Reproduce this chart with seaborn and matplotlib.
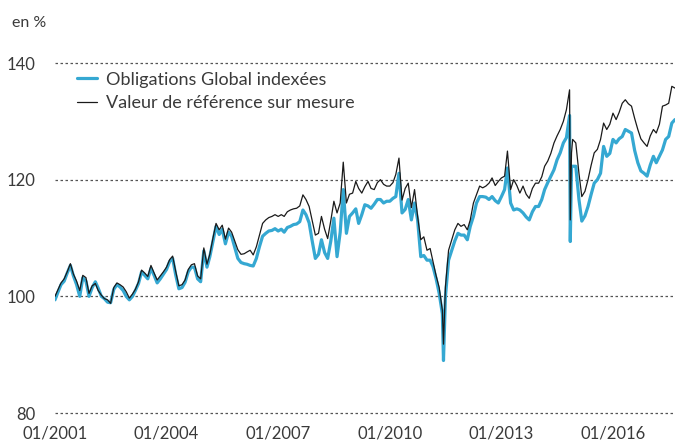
import pandas as pd
import seaborn as sns
import matplotlib.pyplot as plt

# --- Data (monthly, first of month) ---
months = pd.date_range("2001-01-01", "2017-09-01", freq="MS")

benchmark = [
    100.0, 101.2, 102.3, 103.0, 104.2, 105.6, 103.8, 102.6, 101.0, 103.6, 103.2, 100.5,
    101.8, 102.2, 101.0, 100.2, 99.6, 99.4, 98.8, 101.5, 102.3, 102.0, 101.6, 100.8,
    99.7, 100.4, 101.2, 102.5, 104.5, 104.0, 103.4, 105.3, 104.0, 102.8, 103.5, 104.2,
    105.0, 106.3, 106.9, 104.2, 101.8, 102.0, 102.8, 104.6, 105.4, 105.6, 103.5, 103.0,
    108.3, 105.5, 107.2, 110.0, 112.5, 111.4, 112.2, 109.8, 111.7, 111.0, 109.5, 108.0,
    107.2, 107.3, 107.6, 107.9, 107.1, 108.5, 110.5, 112.5, 113.1, 113.5, 113.7, 114.0,
    113.7, 114.0, 113.7, 114.5, 114.8, 115.0, 115.1, 115.5, 117.4, 116.6, 115.4, 113.0,
    110.5, 110.8, 113.7, 111.5, 109.9, 113.0, 116.3, 114.3, 116.0, 123.0, 116.0, 117.5,
    117.7, 119.7, 118.5, 117.7, 118.8, 119.7, 118.5, 118.3, 119.5, 120.0, 119.2, 118.9,
    118.9, 119.5, 120.9, 123.7, 116.5, 118.5, 119.4, 115.2, 118.3, 113.7, 109.7, 110.2,
    107.9, 108.2, 106.0, 103.5, 101.5, 97.6, 101.6, 107.9, 109.7, 111.4, 112.5, 112.0,
    112.3, 111.4, 113.1, 116.0, 117.4, 118.9, 118.6, 118.9, 119.4, 120.3, 119.0, 119.7,
    120.3, 120.6, 124.9, 118.3, 120.0, 119.0, 117.7, 118.9, 117.5, 116.8, 118.5, 119.4,
    119.4, 120.5, 122.3, 123.2, 124.5, 126.3, 127.5, 128.6, 130.0, 132.0, 135.4, 126.9,
    126.3, 121.1, 117.1, 118.0, 120.0, 122.5, 124.6, 125.2, 126.9, 129.7, 128.6, 129.5,
    131.4, 130.3, 131.5, 133.1, 133.7, 133.0, 132.6, 130.5, 128.6, 127.0, 126.3, 125.7,
    127.5, 128.6, 128.0, 129.5, 132.6, 132.8, 133.1, 136.0, 135.7,
]

indexed = [
    99.4, 100.8, 102.0, 102.6, 104.0, 105.3, 103.5, 102.0, 100.0, 103.2, 102.6, 100.0,
    101.5, 102.5, 101.4, 100.0, 99.6, 99.0, 98.9, 101.2, 102.0, 101.6, 101.0, 100.0,
    99.4, 100.0, 101.0, 102.2, 104.2, 103.6, 103.0, 104.8, 103.6, 102.3, 103.0, 103.8,
    104.6, 106.0, 106.5, 103.6, 101.3, 101.5, 102.4, 104.2, 105.0, 105.0, 103.0, 102.5,
    107.8, 105.0, 106.8, 109.4, 112.0, 110.6, 111.5, 109.0, 111.0, 110.3, 108.4, 106.5,
    105.8, 105.6, 105.5, 105.3, 105.2, 106.5, 108.5, 110.3, 110.8, 111.2, 111.3, 111.6,
    111.2, 111.5, 111.0, 111.8, 112.0, 112.3, 112.4, 112.8, 114.8, 114.0, 112.6, 109.5,
    106.5, 107.2, 109.7, 107.5, 106.5, 109.5, 113.4, 106.8, 111.0, 118.3, 110.8, 113.7,
    114.3, 115.0, 112.5, 114.0, 115.7, 115.5, 115.1, 115.8, 116.6, 116.6, 116.0, 116.3,
    116.3, 116.8, 117.1, 121.1, 114.3, 114.9, 116.6, 113.1, 116.0, 113.1, 106.8, 107.0,
    106.2, 106.2, 105.1, 103.0, 100.5, 97.0, 99.9, 106.2, 107.9, 109.5, 110.8, 110.5,
    110.5, 109.7, 112.0, 113.7, 116.0, 117.1, 117.1, 117.0, 116.6, 117.1, 116.4, 116.0,
    117.1, 118.3, 122.0, 116.0, 114.8, 115.0, 114.8, 114.3, 113.6, 113.1, 114.5, 115.4,
    115.4, 116.6, 118.3, 119.5, 120.6, 121.7, 123.4, 124.6, 126.3, 127.2, 131.0, 122.3,
    122.3, 116.6, 112.9, 113.8, 115.4, 117.5, 119.4, 120.0, 121.1, 125.7, 124.0, 124.5,
    126.9, 126.3, 127.0, 127.4, 128.6, 128.3, 128.0, 125.0, 122.9, 121.5, 121.1, 120.6,
    122.5, 124.0, 122.9, 124.0, 125.1, 126.9, 127.4, 129.7, 130.3,
]

# short-lived spikes between month starts
spike_dates = ["2011-06-12", "2014-11-08", "2014-11-20"]
spike_benchmark = [91.8, 113.1, 124.6]
spike_indexed = [89.0, 109.4, 122.3]

tick_years = [2001, 2004, 2007, 2010, 2013, 2016]
y_ticks = [80, 100, 120, 140]

df = pd.DataFrame({
    "date": list(months) + list(pd.to_datetime(spike_dates)),
    "bench": benchmark + spike_benchmark,
    "idx": indexed + spike_indexed,
}).sort_values("date")

# --- Plot ---
sns.set_style("white")
plt.rcParams["font.family"] = ["Lato", "DejaVu Sans"]
TEXT = "#3a3a3a"
BLUE = "#35a8d2"

fig = plt.figure(figsize=(6.75, 4.43), dpi=100)
ax = fig.add_axes([55 / 675, 30 / 443, 620 / 675, 350 / 443])

for y in y_ticks:
    ax.axhline(y, color="#555555", lw=0.9, ls=(0, (2, 2)), zorder=0, clip_on=False)

sns.lineplot(data=df, x="date", y="idx", ax=ax, color=BLUE, lw=2.3,
             label="Obligations Global indexées")
sns.lineplot(data=df, x="date", y="bench", ax=ax, color="#1a1a1a", lw=0.9,
             label="Valeur de référence sur mesure")

ax.set_ylim(80, 140)
ax.set_xlim(months[0], months[-1])
ax.set_yticks(y_ticks)
ax.set_xticks(pd.to_datetime([f"{y}-01-01" for y in tick_years]))
ax.set_xticklabels([f"01/{y}" for y in tick_years])
ax.set_xlabel("")
ax.set_ylabel("")
for s in ax.spines.values():
    s.set_visible(False)
ax.tick_params(axis="x", length=6, width=1, color="#777777", labelsize=12,
               labelcolor=TEXT, pad=3)
ax.tick_params(axis="y", length=0, pad=14, labelsize=12, labelcolor=TEXT)

ax.legend(loc="upper left", bbox_to_anchor=(0.035, 0.975), frameon=False,
          fontsize=13, handlelength=1.1, handletextpad=0.5, labelspacing=0.4,
          borderpad=0, borderaxespad=0, labelcolor=TEXT)

fig.text(12 / 675, 1 - 23 / 443, "en %", fontsize=11.5, va="center", color=TEXT)

fig.savefig("out.png", dpi=100)
